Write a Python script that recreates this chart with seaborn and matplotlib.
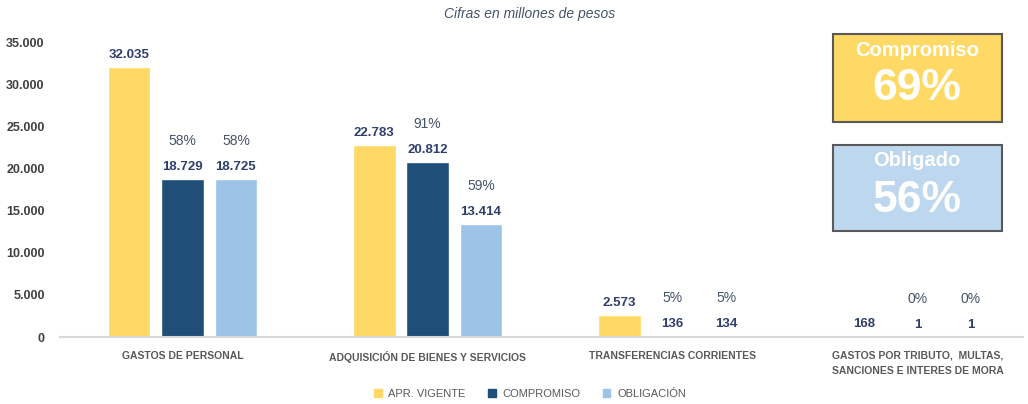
import pandas as pd
import matplotlib.pyplot as plt
import seaborn as sns
from matplotlib.patches import Rectangle

# Data (millones de pesos)
categorias = ["GASTOS DE PERSONAL", "ADQUISICIÓN DE BIENES Y SERVICIOS",
              "TRANSFERENCIAS CORRIENTES",
              "GASTOS POR TRIBUTO,  MULTAS,\nSANCIONES E INTERES DE MORA"]
series = ["APR. VIGENTE", "COMPROMISO", "OBLIGACIÓN"]
apr_vigente = [32035, 22783, 2573, 168]
compromiso = [18729, 20812, 136, 1]
obligacion = [18725, 13414, 134, 1]
pct_compromiso = ["58%", "91%", "5%", "0%"]
pct_obligacion = ["58%", "59%", "5%", "0%"]
yticks = [0, 5000, 10000, 15000, 20000, 25000, 30000, 35000]
total_compromiso = "69%"
total_obligado = "56%"

colors = ["#FFD966", "#1F4E79", "#9DC3E6"]

df = pd.DataFrame({
    "Categoria": categorias * 3,
    "Serie": [s for s in series for _ in categorias],
    "Valor": apr_vigente + compromiso + obligacion,
})

sns.set_style("white")
plt.rcParams['font.family'] = ['Liberation Sans', 'DejaVu Sans']

fig = plt.figure(figsize=(10.28, 4.04), dpi=100)
ax = fig.add_axes([60 / 1028, 67 / 404, 963 / 1028, 295 / 404])

sns.barplot(data=df, x="Categoria", y="Valor", hue="Serie", palette=colors,
            width=0.654, gap=0.2, ax=ax, legend=False, saturation=1)

ax.set_xlim(-0.5, 3.43)
ax.set_ylim(0, 35000)
ax.set_yticks(yticks)
ax.set_yticklabels([f"{v:,}".replace(",", ".") for v in yticks],
                   fontsize=9, color="#404040", fontweight="bold")
ax.tick_params(axis="y", length=0, pad=11)
ax.tick_params(axis="x", length=0, pad=10)
ax.set_xticks(range(4))
ax.set_xticklabels(categorias, fontsize=7.5, color="#595959", fontweight="bold",
                   linespacing=1.6)
ax.set_xlabel("")
ax.set_ylabel("")
for s in ["left", "right", "top"]:
    ax.spines[s].set_visible(False)
ax.spines["bottom"].set_color("#d9d9d9")
ax.spines["bottom"].set_linewidth(1.5)

# value labels and percentages
for j, cont in enumerate(ax.containers):
    for i, bar in enumerate(cont):
        h = bar.get_height()
        xc = bar.get_x() + bar.get_width() / 2
        ax.annotate(f"{int(h):,}".replace(",", "."), (xc, h), xytext=(0, 6),
                    textcoords="offset pixels", ha="center", va="bottom",
                    fontsize=9.5, fontweight="bold", color="#2F3F6B")
        if j > 0:
            pct = pct_compromiso[i] if j == 1 else pct_obligacion[i]
            ax.annotate(pct, (xc, h), xytext=(0, 31),
                        textcoords="offset pixels", ha="center", va="bottom",
                        fontsize=10, color="#44546A")

fig.text(530 / 1028, 1 - 14 / 404, "Cifras en millones de pesos", ha="center",
         va="center", fontsize=10, style="italic", color="#44546A")

# summary boxes
def caja(y0, y1, fill, titulo, valor):
    fig.patches.append(Rectangle((833 / 1028, 1 - y1 / 404), 169 / 1028, (y1 - y0) / 404,
                                 transform=fig.transFigure, facecolor=fill,
                                 edgecolor="#595959", linewidth=1.5))
    fig.text(917 / 1028, 1 - (y0 + 16) / 404, titulo, ha="center", va="center",
             fontsize=14.5, fontweight="bold", color="white")
    fig.text(917 / 1028, 1 - (y0 + 55) / 404, valor, ha="center", va="center",
             fontsize=32, fontweight="bold", color="white")

caja(34, 122, "#FFD966", "Compromiso", total_compromiso)
caja(145, 231, "#BDD7EE", "Obligado", total_obligado)

# legend
handles = [Rectangle((0, 0), 1, 1, color=c) for c in colors]
fig.legend(handles, series, loc="center", bbox_to_anchor=(530 / 1028, 1 - 394 / 404),
           ncol=3, frameon=False, fontsize=8, handlelength=0.7, handleheight=0.7,
           columnspacing=2.0, handletextpad=0.6, labelcolor="#595959")

plt.savefig("out.png", dpi=100)
